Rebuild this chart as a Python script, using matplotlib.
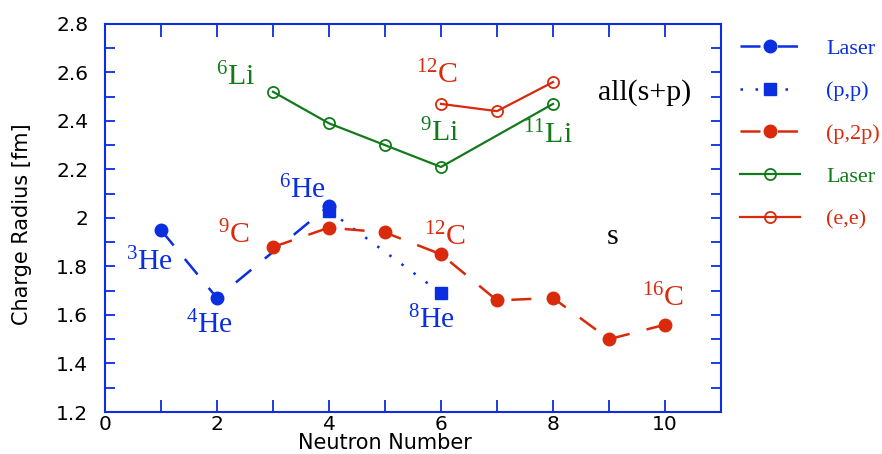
import matplotlib.pyplot as plt
from matplotlib.ticker import MultipleLocator, FixedLocator

# data
he_laser_n = [1, 2, 4]
he_laser_r = [1.95, 1.67, 2.05]

he_pp_n = [4, 6]
he_pp_r = [2.03, 1.69]

c_p2p_n = [3, 4, 5, 6, 7, 8, 9, 10]
c_p2p_r = [1.88, 1.96, 1.94, 1.85, 1.66, 1.67, 1.50, 1.56]

li_laser_n = [3, 4, 5, 6, 8]
li_laser_r = [2.52, 2.39, 2.30, 2.21, 2.47]

c_ee_n = [6, 7, 8]
c_ee_r = [2.47, 2.44, 2.56]

blue = '#0a2ee0'
red = '#d92a0c'
green = '#137a1c'

plt.rcParams['mathtext.fontset'] = 'custom'
plt.rcParams['mathtext.rm'] = 'Liberation Serif'
plt.rcParams['mathtext.it'] = 'Liberation Serif'

fig = plt.figure(figsize=(8.82, 4.54), dpi=100)
ax = fig.add_axes([0.119, 0.0925, 0.6985, 0.855])

ax.plot(he_laser_n, he_laser_r, color=blue, lw=1.8, dashes=(8, 7),
        marker='o', ms=9, label='Laser')
ax.plot(he_pp_n, he_pp_r, color=blue, lw=1.8, dashes=(1, 5),
        marker='s', ms=9, label='(p,p)')
ax.plot(c_p2p_n, c_p2p_r, color=red, lw=1.8, dashes=(8, 7),
        marker='o', ms=9, label='(p,2p)')
ax.plot(li_laser_n, li_laser_r, color=green, lw=1.6,
        marker='o', ms=8, mfc='none', mew=1.3, label='Laser')
ax.plot(c_ee_n, c_ee_r, color=red, lw=1.6,
        marker='o', ms=8, mfc='none', mew=1.3, label='(e,e)')

serif = 'Liberation Serif'
labels = [
    (0.80, 1.82, '$^{3}$He', blue),
    (1.875, 1.56, '$^{4}$He', blue),
    (3.52, 2.115, '$^{6}$He', blue),
    (5.84, 1.58, '$^{8}$He', blue),
    (2.30, 1.93, '$^{9}$C', red),
    (6.07, 1.92, '$^{12}$C', red),
    (9.96, 1.67, '$^{16}$C', red),
    (5.93, 2.59, '$^{12}$C', red),
    (2.34, 2.58, '$^{6}$Li', green),
    (5.98, 2.35, '$^{9}$Li', green),
    (7.90, 2.34, '$^{11}$Li', green),
]
for x, y, s, c in labels:
    ax.text(x, y, s, color=c, fontsize=21.5, family=serif, ha='center', va='center')

ax.text(9.64, 2.515, 'all(s+p)', fontsize=21.5, family=serif, ha='center', va='center')
ax.text(9.07, 1.92, 's', fontsize=21.5, family=serif, ha='center', va='center')

ax.set_xlim(0, 11)
ax.set_ylim(1.2, 2.8)
ax.xaxis.set_major_locator(FixedLocator([0, 2, 4, 6, 8, 10]))
ax.xaxis.set_minor_locator(MultipleLocator(1))
ax.yaxis.set_major_locator(MultipleLocator(0.2))
ax.yaxis.set_minor_locator(MultipleLocator(0.1))
ax.yaxis.set_major_formatter(plt.FuncFormatter(lambda v, p: f'{v:.1f}'.replace('2.0', '2')))
ax.tick_params(which='both', direction='in', top=True, right=True, color=blue, width=1.3,
               labelsize=14.5, labelcolor='black')
ax.tick_params(axis='x', which='both', length=9, pad=2)
ax.tick_params(axis='y', which='both', length=7, pad=12)
for sp in ax.spines.values():
    sp.set_color(blue)
    sp.set_linewidth(1.5)

ax.set_xlabel('Neutron Number', fontsize=15, va='center')
ax.xaxis.set_label_coords(0.454, -0.079)
ax.set_ylabel('Charge Radius [fm]', fontsize=15, va='center')
ax.yaxis.set_label_coords(-0.135, 0.485)

leg = ax.legend(loc='upper left', bbox_to_anchor=(1.016, 0.986), frameon=False,
                borderaxespad=0, prop={'family': serif, 'size': 16}, handlelength=2.7,
                labelspacing=1.0, handletextpad=1.2)
for txt, c in zip(leg.get_texts(), [blue, blue, red, green, red]):
    txt.set_color(c)

fig.savefig('out.png', dpi=100)
